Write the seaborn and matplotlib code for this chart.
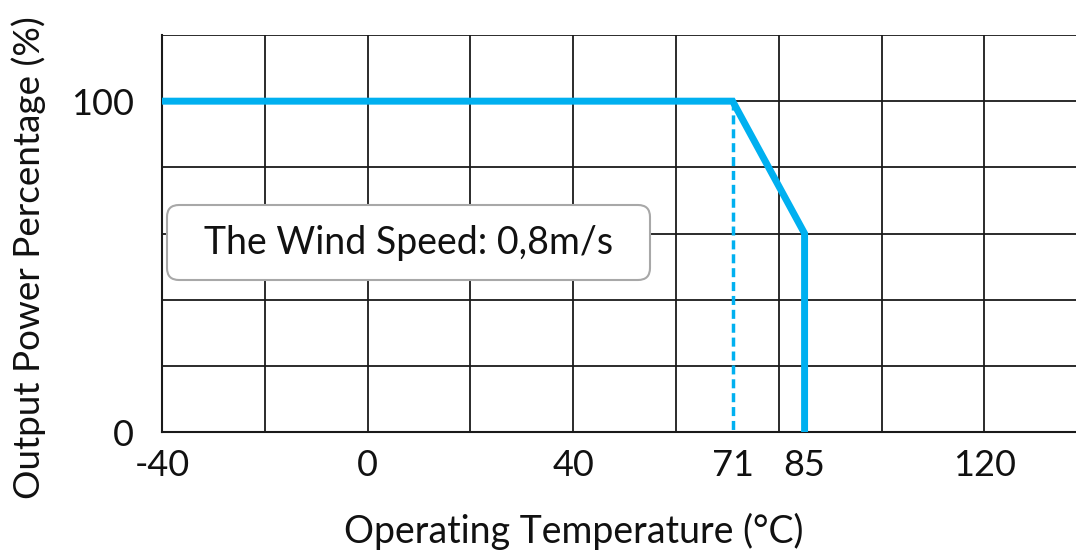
import matplotlib
matplotlib.use("Agg")
import matplotlib.pyplot as plt
import matplotlib.transforms as mtransforms
from matplotlib.patches import FancyBboxPatch
import seaborn as sns
import pandas as pd

# Data
temps = [-40, 71, 85, 85]
power = [100, 100, 60, 0]
knee_temp = [71, 71]
knee_power = [100, 0]
xtick_vals = [-40, 0, 40, 71, 85, 120]
xtick_labels = ["-40", "0", "40", "71", "85", "120"]
ytick_vals = [0, 100]
ytick_labels = ["0", "100"]
xgrid = [-40, -20, 0, 20, 40, 60, 80, 100, 120, 140]
ygrid = [0, 20, 40, 60, 80, 100, 120]
note = "The Wind Speed: 0,8m/s"

sns.set_theme(style="white")
plt.rcParams['font.family'] = ['Lato', 'DejaVu Sans']

W, H = 1076, 552
fig = plt.figure(figsize=(W / 100, H / 100), dpi=100)
ax = fig.add_axes([162 / W, 1 - 432 / H, 1 - 162 / W, (432 - 35) / H])

blue = "#00B0F0"
df = pd.DataFrame({"t": temps, "p": power})
dfk = pd.DataFrame({"t": knee_temp, "p": knee_power})

for g in xgrid:
    ax.axvline(g, color="#1a1a1a", lw=1.3, zorder=1)
for g in ygrid:
    ax.axhline(g, color="#1a1a1a", lw=1.3, zorder=1)

sns.lineplot(data=dfk, x="t", y="p", sort=False, estimator=None, ax=ax,
             color=blue, lw=2.5, linestyle=(0, (2.6, 1.4)), zorder=3)
sns.lineplot(data=df, x="t", y="p", sort=False, estimator=None, ax=ax,
             color=blue, lw=5, zorder=4, solid_joinstyle="miter")

ax.set_xticks(xgrid, minor=True)
ax.set_yticks(ygrid, minor=True)
ax.set_xticks(xtick_vals)
ax.set_xticklabels(xtick_labels, fontsize=26, color="#111111")
ax.set_yticks(ytick_vals)
ax.set_yticklabels(ytick_labels, fontsize=26, color="#111111")
ax.set_xlim(-40, 137.8)
ax.set_ylim(0, 120)
ax.tick_params(which="both", direction="out", length=4, width=1.3, color="#1a1a1a")
ax.tick_params(axis="x", which="major", length=0, pad=12)
ax.tick_params(axis="y", which="major", length=0, pad=20)
for s in ["top", "right"]:
    ax.spines[s].set_visible(False)
for s in ["left", "bottom"]:
    ax.spines[s].set_color("#1a1a1a")
    ax.spines[s].set_linewidth(1.5)

ax.set_xlabel("Operating Temperature (°C)", fontsize=27, color="#111111")
ax.set_ylabel("Output Power Percentage (%)", fontsize=26.6, color="#111111")
ax.xaxis.label.set_va("center")
ax.yaxis.label.set_va("center")
ax.xaxis.set_label_coords(574 / W, 1 - 531 / H, transform=fig.transFigure)
ax.yaxis.set_label_coords(29 / W, 1 - 258 / H, transform=fig.transFigure)

# annotation box (pixel layout)
px = mtransforms.IdentityTransform()
box = FancyBboxPatch((167, H - 280), 483, 75, boxstyle="round,pad=0,rounding_size=12",
                     transform=px, fc="white", ec="#a8a8a8", lw=1.5, zorder=5)
ax.add_patch(box)
box.set_clip_on(False)
fig.text(409 / W, 1 - 243 / H, note, fontsize=27, ha="center", va="center",
         color="#111111", zorder=6)

fig.savefig("out.png", dpi=100)
